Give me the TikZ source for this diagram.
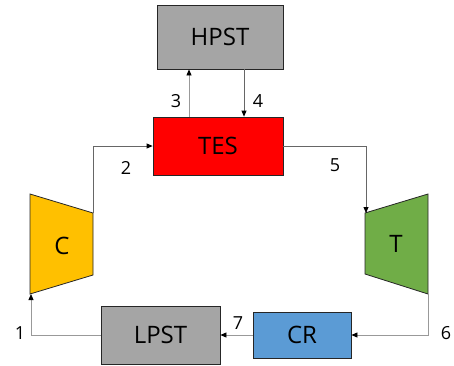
\documentclass[tikz,border=0pt]{standalone}
\usepackage{fontspec}
\setmainfont{Open Sans}
\usetikzlibrary{arrows.meta}
\begin{document}
\begin{tikzpicture}[x=1pt,y=-1pt,
  box/.style={draw=black!85,line width=0.8pt,inner sep=0pt,font=\fontsize{24}{24}\selectfont},
  part/.style={draw=black!85,line width=0.8pt},
  flow/.style={draw=black!40,line width=0.8pt,-{Triangle[length=6pt,width=5pt,black]}},
  flowdark/.style={draw=black!60,line width=0.8pt,-{Triangle[length=6pt,width=5pt,black]}},
  num/.style={font=\fontsize{18}{18}\selectfont,inner sep=0pt},
  lbl/.style={font=\fontsize{24}{24}\selectfont,inner sep=0pt}]
\useasboundingbox (0,0) rectangle (454,365);
% storage and exchanger boxes
\node[box,fill={rgb,255:red,165;green,165;blue,165},minimum width=126pt,minimum height=64pt] (hpst) at (220,37) {HPST};
\node[box,fill={rgb,255:red,255;green,0;blue,0},minimum width=130pt,minimum height=58pt] (tes) at (218,146) {TES};
\node[box,fill={rgb,255:red,165;green,165;blue,165},minimum width=119pt,minimum height=58pt] (lpst) at (160.5,335) {LPST};
\node[box,fill={rgb,255:red,91;green,155;blue,213},minimum width=98pt,minimum height=46pt] (cr) at (302,335) {CR};
% compressor
\coordinate (c1) at (30,194);
\coordinate (c2) at (93,213);
\coordinate (c3) at (93,275);
\coordinate (c4) at (30,294);
\draw[part,fill={rgb,255:red,255;green,192;blue,0}] (c1) -- (c2) -- (c3) -- (c4) -- cycle;
\node[lbl] (clbl) at (62,246) {C};
% turbine
\coordinate (t1) at (365,213);
\coordinate (t2) at (428,194);
\coordinate (t3) at (428,294);
\coordinate (t4) at (365,274);
\draw[part,fill={rgb,255:red,112;green,173;blue,71}] (t1) -- (t2) -- (t3) -- (t4) -- cycle;
\node[lbl] (tlbl) at (396,244) {T};
% connectors
\coordinate (cin) at (31,294);
\draw[flow] (lpst.west) -| (cin);
\draw[flowdark] (c2) |- (tes.west);
\draw[flow] (tes.north -| 189,0) -- (hpst.south -| 189,0);
\draw[flowdark] (hpst.south -| 244,0) -- (tes.north -| 244,0);
\coordinate (tin) at (366,213);
\draw[flowdark] (tes.east) -| (tin);
\draw[flow] (t3) |- (cr.east);
\draw[flow] (cr.west) -- (lpst.east);
% state numbers
\node[num] (n1) at (20,333) {1};
\node[num] (n2) at (126,168) {2};
\node[num] (n3) at (176,101) {3};
\node[num] (n4) at (258,101) {4};
\node[num] (n5) at (335,165) {5};
\node[num] (n6) at (446,333) {6};
\node[num] (n7) at (238,323) {7};
\end{tikzpicture}
\end{document}
